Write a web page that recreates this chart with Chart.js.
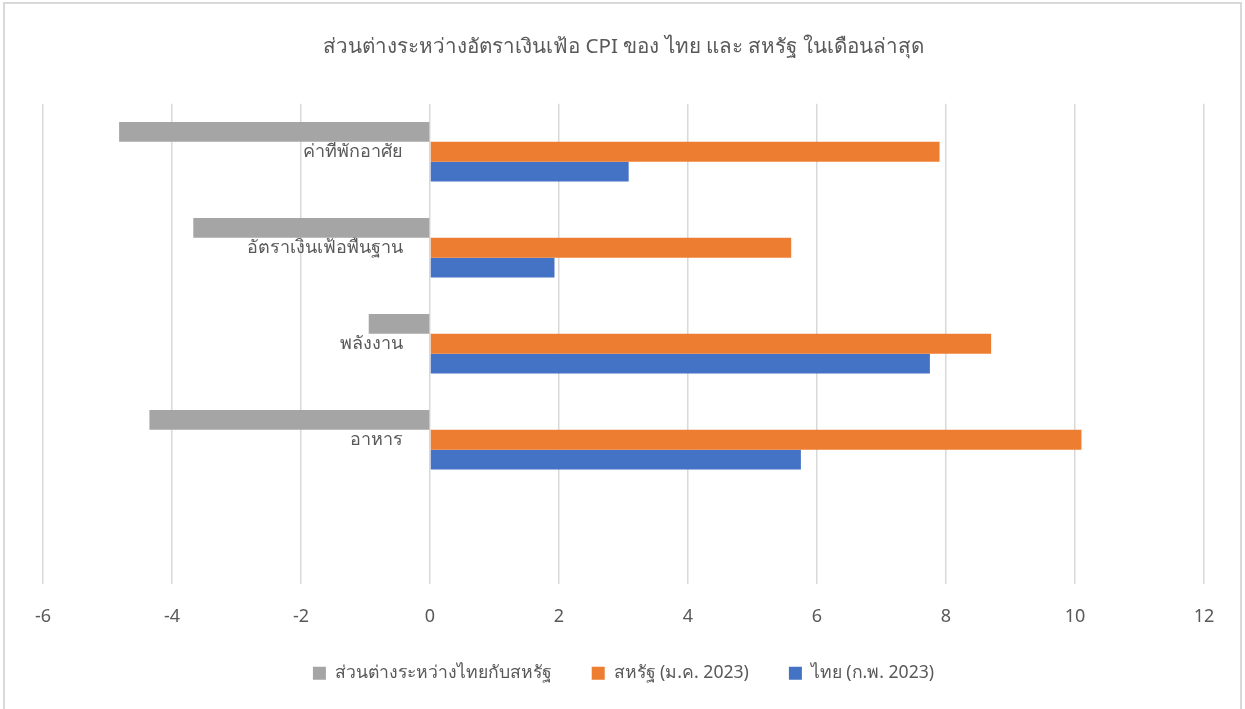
<!DOCTYPE html>
<html>
<head>
<meta charset="utf-8">
<script src="https://cdn.jsdelivr.net/npm/chart.js@4.4.1/dist/chart.umd.min.js"></script>
<style>
  html, body { margin: 0; padding: 0; background: #ffffff; }
  #wrap { position: relative; width: 1245px; height: 709px; overflow: hidden; background: #fff; }
  #frame { position: absolute; left: 3px; top: 2px; width: 1239px; height: 720px; border: 2px solid #d9d9d9; box-sizing: border-box; pointer-events: none; }
  canvas { position: absolute; left: 0; top: 0; }
</style>
</head>
<body>
<div id="wrap">
  <canvas id="c" width="1245" height="709"></canvas>
  <div id="frame"></div>
</div>
<script>
const categories = ['ค่าที่พักอาศัย', 'อัตราเงินเฟ้อพื้นฐาน', 'พลังงาน', 'อาหาร', ''];
const diffValues = [-4.82, -3.67, -0.95, -4.35, null];
const usValues = [7.9, 5.6, 8.7, 10.1, null];
const thaiValues = [3.08, 1.93, 7.75, 5.75, null];
const seriesNames = ['ส่วนต่างระหว่างไทยกับสหรัฐ', 'สหรัฐ (ม.ค. 2023)', 'ไทย (ก.พ. 2023)'];
const titleText = 'ส่วนต่างระหว่างอัตราเงินเฟ้อ CPI ของ ไทย และ สหรัฐ ในเดือนล่าสุด';
const xTickMin = -6, xTickMax = 12, xTickStep = 2;

const textColor = '#595959';
const fontFamily = '"Noto Sans", "Open Sans", sans-serif';

new Chart(document.getElementById('c'), {
  type: 'bar',
  data: {
    labels: categories,
    datasets: [
      { label: seriesNames[0], data: diffValues, backgroundColor: '#A5A5A5' },
      { label: seriesNames[1], data: usValues, backgroundColor: '#ED7D31' },
      { label: seriesNames[2], data: thaiValues, backgroundColor: '#4472C4' }
    ]
  },
  options: {
    indexAxis: 'y',
    responsive: false,
    animation: false,
    devicePixelRatio: 1,
    datasets: { bar: { categoryPercentage: 0.62, barPercentage: 1.0 } },
    layout: { padding: { left: 43, right: 41, top: 0, bottom: 17 } },
    plugins: {
      title: {
        display: true,
        text: titleText,
        color: textColor,
        font: { family: fontFamily, size: 20.6, weight: 'normal' },
        padding: { top: 35, bottom: 44 }
      },
      legend: {
        position: 'bottom',
        labels: {
          color: textColor,
          font: { family: fontFamily, size: 17.6 },
          boxWidth: 13,
          boxHeight: 13,
          padding: 40
        }
      },
      tooltip: { enabled: false }
    },
    scales: {
      x: {
        min: xTickMin,
        max: xTickMax,
        ticks: { stepSize: xTickStep, color: textColor, font: { family: fontFamily, size: 18 }, padding: 22 },
        grid: { color: '#d9d9d9', lineWidth: 1.5, drawTicks: false },
        border: { display: false },
        afterFit: (scale) => { scale.height -= 25; }
      },
      y: {
        position: { x: -0.42 },
        ticks: { color: textColor, font: { family: fontFamily, size: 18 }, padding: 0 },
        grid: { display: false, drawTicks: false },
        border: { display: false }
      }
    }
  }
});
</script>
</body>
</html>
